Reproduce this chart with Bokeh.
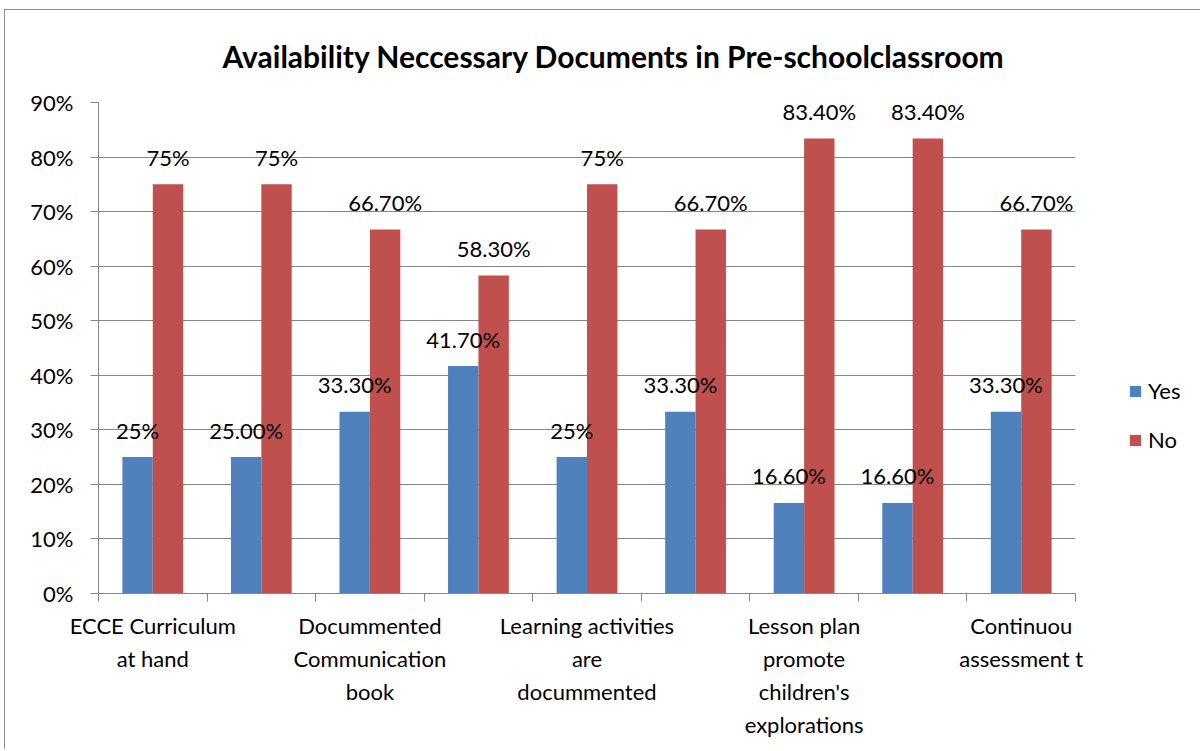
import numpy as np
from bokeh.plotting import figure
from bokeh.models import (ColumnDataSource, Range1d, FixedTicker, NumeralTickFormatter,
                          Legend, LegendItem)
from bokeh.transform import dodge
from bokeh.core.properties import value
from bokeh.embed import file_html
from bokeh.resources import INLINE

# ---- data ----
categories = [
    "ECCE Curriculum\nat hand", "",
    "Docummented\nCommunication\nbook", "",
    "Learning activities\nare\ndocummented", "",
    "Lesson plan\npromote\nchildren's\nexplorations", "",
    "Continuou\nassessment t",
]
yes_values = [0.25, 0.25, 0.333, 0.417, 0.25, 0.333, 0.166, 0.166, 0.333]
no_values = [0.75, 0.75, 0.667, 0.583, 0.75, 0.667, 0.834, 0.834, 0.667]
yes_labels = ["25%", "25.00%", "33.30%", "41.70%", "25%", "33.30%", "16.60%", "16.60%", "33.30%"]
no_labels = ["75%", "75%", "66.70%", "58.30%", "75%", "66.70%", "83.40%", "83.40%", "66.70%"]
y_ticks = [0.0, 0.1, 0.2, 0.3, 0.4, 0.5, 0.6, 0.7, 0.8, 0.9]
title_text = "Availability Neccessary Documents in Pre-schoolclassroom"

BLUE = "#4F81BD"
RED = "#C0504D"
GRID = "#868686"
FONT = "Lato"

n = len(categories)
centers = [i + 0.5 for i in range(n)]
src = ColumnDataSource(dict(x=centers, yes=yes_values, no=no_values,
                            yes_lab=yes_labels, no_lab=no_labels))

p = figure(frame_width=977, frame_height=491, output_backend="svg", toolbar_location=None,
           x_range=Range1d(0, n), y_range=Range1d(0, 0.9),
           min_border_left=93, min_border_right=120, min_border_top=92, min_border_bottom=156,
           title=title_text)
p.styles = {"margin-left": "4px", "margin-top": "9px",
            "border-left": "1px solid #8c8c8c", "border-top": "1px solid #8c8c8c",
            "border-right": "1px solid #8c8c8c"}

p.title.align = "left"
p.title.offset = 124
p.title.vertical_align = "top"
p.title.text_font = FONT
p.title.text_font_size = "30px"
p.title.text_font_style = "bold"
p.title.text_color = "black"
p.title.standoff = 53

p.outline_line_color = None
p.background_fill_color = "white"
p.border_fill_color = "white"

bw = 0.28
r_yes = p.vbar(x=dodge("x", -bw / 2, range=p.x_range), top="yes", width=bw, bottom=0,
               source=src, fill_color=BLUE, line_color=None)
r_no = p.vbar(x=dodge("x", bw / 2, range=p.x_range), top="no", width=bw, bottom=0,
              source=src, fill_color=RED, line_color=None)

p.text(x=dodge("x", -bw / 2, range=p.x_range), y="yes", text="yes_lab", source=src,
       text_align="center", text_baseline="middle", y_offset=-27,
       text_font=value(FONT), text_font_size="22px", text_color="black")
p.text(x=dodge("x", bw / 2, range=p.x_range), y="no", text="no_lab", source=src,
       text_align="center", text_baseline="middle", y_offset=-27,
       text_font=value(FONT), text_font_size="22px", text_color="black")

# y axis
p.yaxis.ticker = FixedTicker(ticks=y_ticks)
p.yaxis.formatter = NumeralTickFormatter(format="0%")
p.yaxis.axis_line_color = GRID
p.yaxis.major_tick_line_color = GRID
p.yaxis.major_tick_out = 8
p.yaxis.major_tick_in = 0
p.yaxis.minor_tick_line_color = None
p.yaxis.major_label_text_font = FONT
p.yaxis.major_label_text_font_size = "22px"
p.yaxis.major_label_text_color = "black"
p.yaxis.major_label_standoff = 17

# x axis
p.xaxis.ticker = FixedTicker(ticks=centers[0::2], minor_ticks=list(range(n + 1)))
p.xaxis.major_label_overrides = {c: categories[i] for i, c in enumerate(centers) if categories[i]}
p.xaxis.axis_line_color = GRID
p.xaxis.major_tick_line_color = None
p.xaxis.minor_tick_line_color = GRID
p.xaxis.minor_tick_out = 8
p.xaxis.minor_tick_in = 0
p.xaxis.major_label_text_font = FONT
p.xaxis.major_label_text_font_size = "22px"
p.xaxis.major_label_text_color = "black"
p.xaxis.major_label_text_line_height = 1.23
p.xaxis.major_label_standoff = 10

p.xgrid.grid_line_color = None
p.ygrid.grid_line_color = GRID
p.ygrid.ticker = FixedTicker(ticks=y_ticks)

legend = Legend(items=[LegendItem(label="Yes", renderers=[r_yes]),
                       LegendItem(label="No", renderers=[r_no])],
                location=(53, 140), orientation="vertical")
legend.glyph_width = 14
legend.glyph_height = 14
legend.label_height = 26
legend.spacing = 22
legend.padding = 0
legend.margin = 0
legend.label_standoff = 6
legend.label_text_font = FONT
legend.label_text_font_size = "22px"
legend.label_text_color = "black"
legend.border_line_color = None
legend.background_fill_alpha = 0
p.add_layout(legend, "right")

open("out.html", "w").write(file_html(p, INLINE))
